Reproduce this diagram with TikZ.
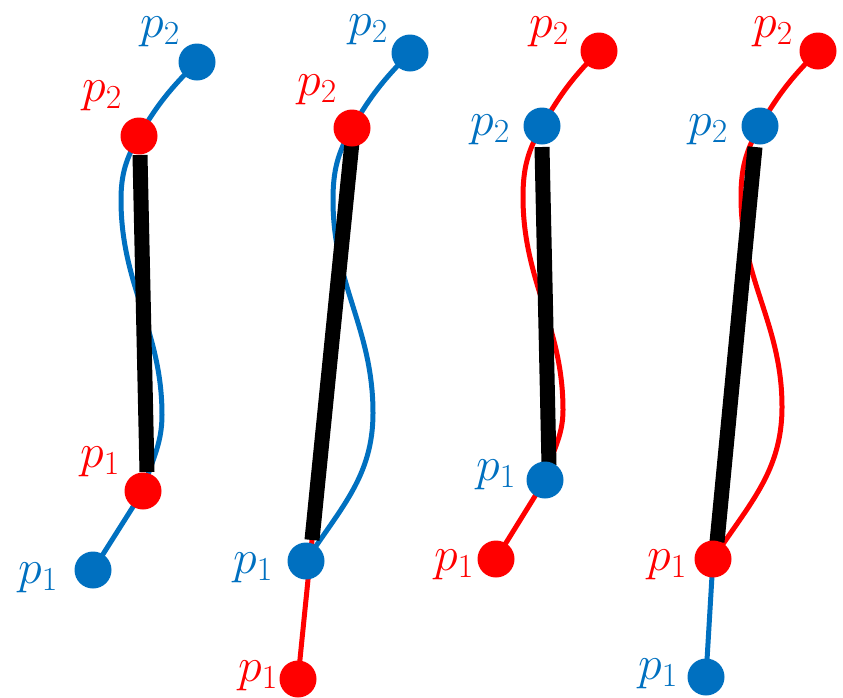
\RequirePackage{fix-cm}
\documentclass[tikz,border=0pt]{standalone}
\definecolor{myblue}{HTML}{0070C0}
\definecolor{myred}{HTML}{FF0000}
\tikzset{
  dotb/.style={circle,fill=myblue,inner sep=0pt,minimum size=37pt},
  dotr/.style={circle,fill=myred,inner sep=0pt,minimum size=37pt},
  lab/.style={inner sep=0pt,font=\fontsize{48}{54}\selectfont},
  curveb/.style={draw=myblue,line width=5pt},
  curver/.style={draw=myred,line width=5pt},
  bar/.style={draw=black,line width=15pt,line cap=butt}
}
\begin{document}
\begin{tikzpicture}[x=1pt,y=-1pt]
\useasboundingbox (0,0) rectangle (843,697);
% ---------- panel 1 ----------
\coordinate (aB2) at (197,62);
\coordinate (aR2) at (139,136);
\coordinate (aR1) at (143,491);
\coordinate (aB1) at (93,570);
\coordinate (aU) at (121,200);
\coordinate (aV) at (162,415);
\coordinate (aT) at (140,155);
\coordinate (aS) at (147,472);
\draw[curveb] (aB2) to[out=225,in=60] (aR2) to[out=240,in=90] (aU)
  to[out=270,in=90] (aV) to[out=270,in=75] (aR1);
\draw[curveb] (aR1) -- (aB1);
\draw[bar] (aT) -- (aS);
\node[dotb] (a1) at (aB2) {};
\node[dotr] (a2) at (aR2) {};
\node[dotr] (a3) at (aR1) {};
\node[dotb] (a4) at (aB1) {};
\node[lab,text=myblue] (la1) at (160,32) {$p_2$};
\node[lab,text=myred] (la2) at (102,96) {$p_2$};
\node[lab,text=myred] (la3) at (100,462) {$p_1$};
\node[lab,text=myblue] (la4) at (38,578) {$p_1$};
% ---------- panel 2 ----------
\coordinate (bB2) at (410,53);
\coordinate (bR2) at (352,128);
\coordinate (bB1) at (306,561);
\coordinate (bR1) at (298,679);
\coordinate (bU) at (333,200);
\coordinate (bV) at (373,413);
\coordinate (bT) at (352,142);
\coordinate (bS) at (312,540);
\draw[curveb] (bB2) to[out=225,in=60] (bR2) to[out=240,in=90] (bU)
  to[out=270,in=90] (bV) to[out=270,in=57] (bB1);
\draw[curver] (bR1) -- (bS);
\draw[bar] (bT) -- (bS);
\node[dotb] (b1) at (bB2) {};
\node[dotr] (b2) at (bR2) {};
\node[dotb] (b3) at (bB1) {};
\node[dotr] (b4) at (bR1) {};
\node[lab,text=myblue] (lb1) at (368,30) {$p_2$};
\node[lab,text=myred] (lb2) at (317,90) {$p_2$};
\node[lab,text=myblue] (lb3) at (253,568) {$p_1$};
\node[lab,text=myred] (lb4) at (258,676) {$p_1$};
% ---------- panel 3 ----------
\coordinate (cR2) at (599,51);
\coordinate (cB2) at (542,126);
\coordinate (cB1) at (545,480);
\coordinate (cR1) at (496,559);
\coordinate (cU) at (523,197);
\coordinate (cV) at (563,410);
\coordinate (cT) at (542,147);
\coordinate (cS) at (549,465);
\draw[curver] (cR2) to[out=225,in=60] (cB2) to[out=240,in=90] (cU)
  to[out=270,in=90] (cV) to[out=270,in=78] (cB1);
\draw[curver] (cB1) -- (cR1);
\draw[bar] (cT) -- (cS);
\node[dotr] (c1) at (cR2) {};
\node[dotb] (c2) at (cB2) {};
\node[dotb] (c3) at (cB1) {};
\node[dotr] (c4) at (cR1) {};
\node[lab,text=myred] (lc1) at (549,32) {$p_2$};
\node[lab,text=myblue] (lc2) at (490,130) {$p_2$};
\node[lab,text=myblue] (lc3) at (496,475) {$p_1$};
\node[lab,text=myred] (lc4) at (454,565) {$p_1$};
% ---------- panel 4 ----------
\coordinate (dR2) at (818,51);
\coordinate (dB2) at (760,126);
\coordinate (dR1) at (713,559);
\coordinate (dB1) at (706,677);
\coordinate (dU) at (741,197);
\coordinate (dV) at (782,407);
\coordinate (dT) at (755,147);
\coordinate (dS) at (717,542);
\draw[curver] (dR2) to[out=225,in=60] (dB2) to[out=240,in=90] (dU)
  to[out=270,in=90] (dV) to[out=270,in=57] (dR1);
\draw[curveb] (dR1) -- (dB1);
\draw[bar] (dT) -- (dS);
\node[dotr] (d1) at (dR2) {};
\node[dotb] (d2) at (dB2) {};
\node[dotr] (d3) at (dR1) {};
\node[dotb] (d4) at (dB1) {};
\node[lab,text=myred] (ld1) at (773,32) {$p_2$};
\node[lab,text=myblue] (ld2) at (708,130) {$p_2$};
\node[lab,text=myred] (ld3) at (667,565) {$p_1$};
\node[lab,text=myblue] (ld4) at (658,674) {$p_1$};
\end{tikzpicture}
\end{document}
